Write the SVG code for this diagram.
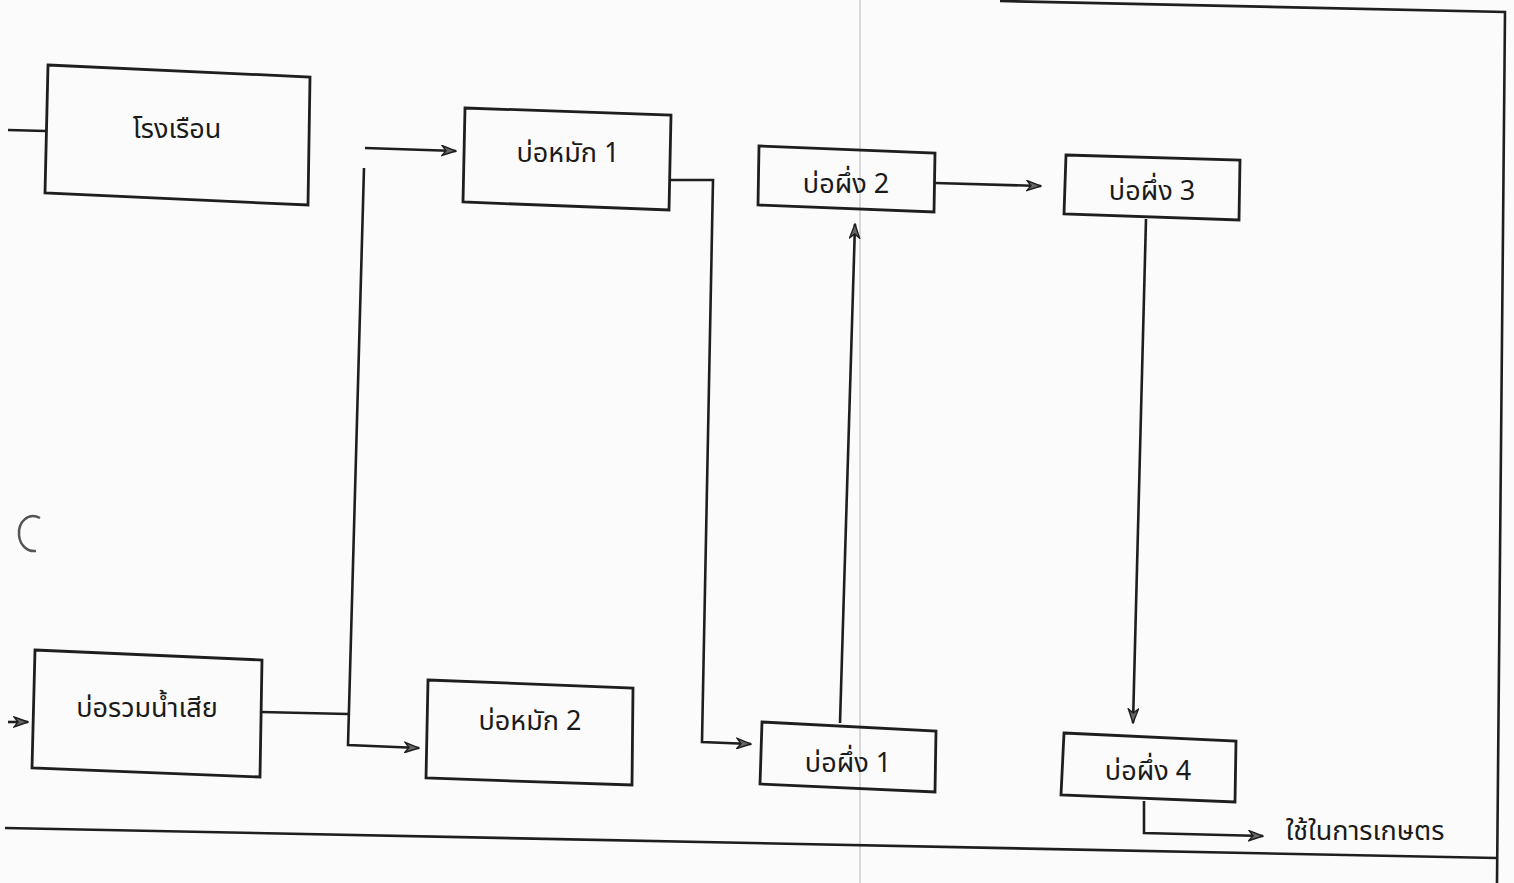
<svg xmlns="http://www.w3.org/2000/svg" width="1514" height="883" viewBox="0 0 1514 883">
<style>
.bx{fill:none;stroke:#1e1e1e;stroke-width:2.8;stroke-linejoin:miter}
.ln{fill:none;stroke:#1e1e1e;stroke-width:2.6}
.t{font-family:"Noto Sans Thai","Noto Sans","DejaVu Sans",sans-serif;font-size:27px;fill:#1a1a1a;text-anchor:middle}
</style>
<defs>
<marker id="ah" viewBox="0 0 16 12" refX="15" refY="6" markerWidth="16" markerHeight="12" markerUnits="userSpaceOnUse" orient="auto">
<path d="M1,1 L15,6 L1,11 L5,6 Z" fill="#666" stroke="#1e1e1e" stroke-width="1.4"/>
</marker>
</defs>
<rect width="1514" height="883" fill="#fbfbfb"/>
<line x1="860" y1="0" x2="860" y2="883" stroke="#d8d8d8" stroke-width="2"/>
<g id="frame">
<path class="ln" d="M1000,1 L1505,12 L1497,883"/>
<path class="ln" d="M5,828 L1497,858"/>
<path d="M40,518 C28,512 18,522 19,535 C20,546 28,552 36,551" fill="none" stroke="#555" stroke-width="2.5"/>
</g>
<g id="connectors">
<path class="ln" d="M8,130 L46,131"/>
<path class="ln" d="M8,722 L28,722" marker-end="url(#ah)"/>
<path class="ln" d="M365,148 L456,151" marker-end="url(#ah)"/>
<path class="ln" d="M364,168 L348,745 L419,748" marker-end="url(#ah)"/>
<path class="ln" d="M261,712 L348,714"/>
<path class="ln" d="M669,180 L713,180 L702,742 L751,744" marker-end="url(#ah)"/>
<path class="ln" d="M840,723 L855,224" marker-end="url(#ah)"/>
<path class="ln" d="M935,183 L1041,186" marker-end="url(#ah)"/>
<path class="ln" d="M1146,219 L1133,723" marker-end="url(#ah)"/>
<path class="ln" d="M1144,801 L1144,833 L1263,836" marker-end="url(#ah)"/>
</g>
<g id="n-rongruean">
<path class="bx" d="M48,65 L310,77 L308,205 L45,193 Z"/>
<text class="t" x="177" y="138">โรงเรือน</text>
</g>
<g id="n-bohmak1">
<path class="bx" d="M465,108 L671,115 L669,210 L463,202 Z"/>
<text class="t" x="568" y="162">บ่อหมัก 1</text>
</g>
<g id="n-boruam">
<path class="bx" d="M35,650 L262,660 L260,777 L32,768 Z"/>
<text class="t" x="147" y="717">บ่อรวมน้ำเสีย</text>
</g>
<g id="n-bohmak2">
<path class="bx" d="M428,680 L633,688 L632,785 L426,778 Z"/>
<text class="t" x="530" y="730">บ่อหมัก 2</text>
</g>
<g id="n-bopueng1">
<path class="bx" d="M762,722 L936,731 L935,792 L760,784 Z"/>
<text class="t" x="848" y="772">บ่อผึ่ง 1</text>
</g>
<g id="n-bopueng2">
<path class="bx" d="M759,146 L935,153 L934,212 L758,205 Z"/>
<text class="t" x="846" y="193">บ่อผึ่ง 2</text>
</g>
<g id="n-bopueng3">
<path class="bx" d="M1066,155 L1240,160 L1239,220 L1064,214 Z"/>
<text class="t" x="1152" y="200">บ่อผึ่ง 3</text>
</g>
<g id="n-bopueng4">
<path class="bx" d="M1064,733 L1236,741 L1235,802 L1061,795 Z"/>
<text class="t" x="1148" y="780">บ่อผึ่ง 4</text>
</g>
<text class="t" x="1365" y="840">ใช้ในการเกษตร</text>
</svg>
